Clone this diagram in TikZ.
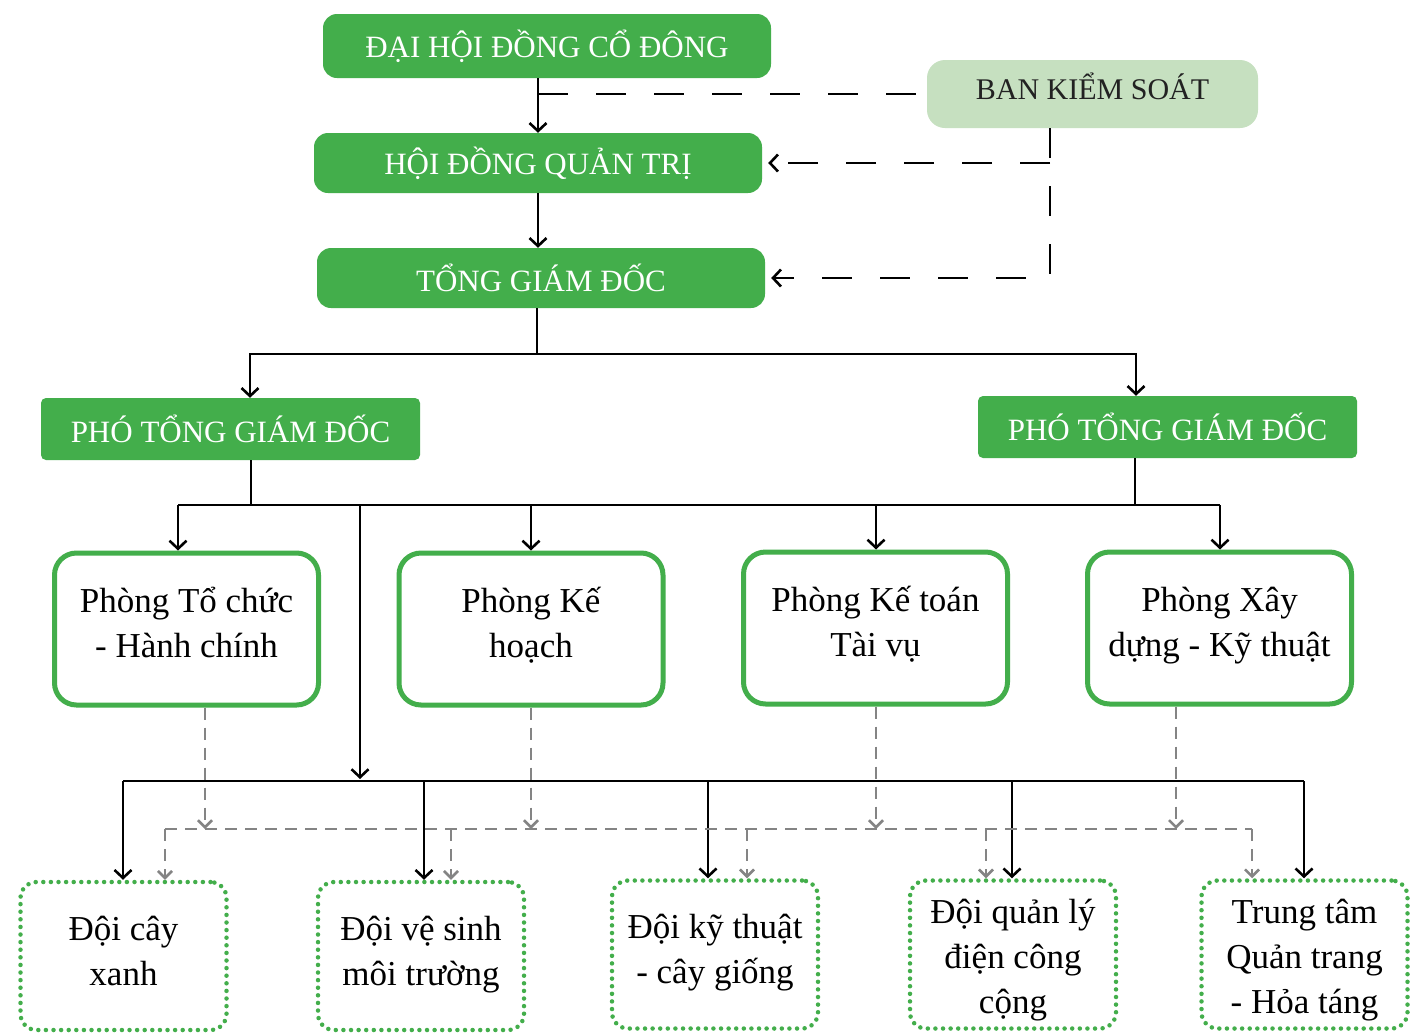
\documentclass[tikz,border=0pt]{standalone}
\usepackage{fontspec}
\setmainfont{Liberation Serif}
\usetikzlibrary{arrows.meta,calc}
\definecolor{gr}{RGB}{67,174,75}
\definecolor{lgr}{RGB}{198,224,192}
\definecolor{gy}{RGB}{132,132,132}
\definecolor{dk}{RGB}{34,34,34}
\begin{document}
\begin{tikzpicture}[x=1pt,y=-1pt,
  hbox/.style={fill=gr, rounded corners=14pt, text=white, inner sep=0pt, font=\fontsize{31}{36}\selectfont},
  pbox/.style={fill=gr, rounded corners=5pt, text=white, inner sep=0pt, font=\fontsize{31}{36}\selectfont, minimum width=379pt, minimum height=62pt},
  kbox/.style={fill=lgr, rounded corners=18pt, text=dk, inner sep=0pt, font=\fontsize{30}{34}\selectfont},
  phbox/.style={draw=gr, line width=5pt, fill=white, rounded corners=22pt, inner sep=0pt, align=center, font=\fontsize{35}{45}\selectfont, minimum width=264pt, minimum height=152pt},
  dbox/.style={draw=gr, line width=4.5pt, dash pattern=on 0pt off 7.6pt, line cap=round, rounded corners=16pt, inner sep=0pt, align=center, font=\fontsize{35}{45}\selectfont, minimum width=206pt, minimum height=148pt},
  bl/.style={draw=black, line width=2.6pt},
  arr/.style={-{Straight Barb[length=8pt,width=17pt]}},
  bdash/.style={draw=black, line width=2.6pt, dash pattern=on 30pt off 28pt},
  gd/.style={draw=gy, line width=2.6pt, dash pattern=on 12pt off 8pt},
  garr/.style={-{Straight Barb[length=7pt,width=14pt]}}
]
\useasboundingbox (0,0) rectangle (1410,1034);
\fill[white] (0,0) rectangle (1410,1034);

% top nodes
\node[hbox, minimum width=448pt, minimum height=64pt] (dh) at (547,46) {ĐẠI HỘI ĐỒNG CỔ ĐÔNG};
\node[hbox, minimum width=448pt, minimum height=60pt] (hd) at (538,163) {HỘI ĐỒNG QUẢN TRỊ};
\node[hbox, minimum width=448pt, minimum height=60pt] (tg) at (541,278) {TỔNG GIÁM ĐỐC};
\node[kbox, minimum width=331pt, minimum height=68pt, text depth=16pt] (bks) at (1092.5,94) {BAN KIỂM SOÁT};
\node[pbox] (p1) at (230.5,429) {PHÓ TỔNG GIÁM ĐỐC};
\node[pbox] (p2) at (1167.5,427) {PHÓ TỔNG GIÁM ĐỐC};

% departments
\node[phbox] (ph1) at (186.5,629) {Phòng Tổ chức\\- Hành chính\\[-32pt]};
\node[phbox] (ph2) at (531,629) {Phòng Kế\\hoạch\\[-32pt]};
\node[phbox] (ph3) at (875.5,628) {Phòng Kế toán\\Tài vụ\\[-32pt]};
\node[phbox] (ph4) at (1219.5,628) {Phòng Xây\\dựng - Kỹ thuật\\[-32pt]};

% teams
\node[dbox] (d1) at (123.5,956) {Đội cây\\xanh\\[-34pt]};
\node[dbox] (d2) at (421,956) {Đội vệ sinh\\môi trường\\[-34pt]};
\node[dbox] (d3) at (715,954.5) {Đội kỹ thuật\\- cây giống\\[-34pt]};
\node[dbox] (d4) at (1013,954.5) {\rule{0pt}{36pt}Đội quản lý\\điện công\\cộng};
\node[dbox] (d5) at (1304.5,954.5) {\rule{0pt}{36pt}Trung tâm\\Quản trang\\- Hỏa táng};

% top connectors
\draw[bl,arr] (dh.south -| hd.north) -- (hd.north);
\draw[bl,arr] (hd.south) -- (hd.south |- tg.north);
\draw[bdash] (bks.west -| hd.north) -- (bks.west);
\coordinate (kc) at (1050,278);
\draw[bdash,arr,shorten >=6pt] (bks.south -| kc) -- (kc) -- (tg.east);
\draw[bdash,arr,shorten >=6pt] (hd.east -| kc) -- (hd.east);

% to deputies
\coordinate (b1) at (537,354);
\coordinate (b1l) at (250,354);
\coordinate (b1r) at (1136,354);
\draw[bl] (tg.south -| b1) -- (b1);
\draw[bl,arr] (b1) -- (b1l) -- (b1l |- p1.north);
\draw[bl,arr] (b1) -- (b1r) -- (b1r |- p2.north);

% to departments
\coordinate (j1) at (251,505);
\coordinate (j2) at (1135,505);
\coordinate (b2a) at (178,505);
\coordinate (b2b) at (531,505);
\coordinate (b2c) at (876,505);
\coordinate (b2d) at (1220,505);
\draw[bl] (p1.south -| j1) -- (j1);
\draw[bl] (p2.south -| j2) -- (j2);
\draw[bl] (b2a) -- (b2d);
\draw[bl,arr] (b2a) -- (b2a |- ph1.north);
\draw[bl,arr] (b2b) -- (b2b |- ph2.north);
\draw[bl,arr] (b2c) -- (b2c |- ph3.north);
\draw[bl,arr] (b2d) -- (b2d |- ph4.north);

% to teams (black)
\coordinate (v1) at (360,505);
\coordinate (v2) at (360,779);
\draw[bl,arr] (v1) -- (v2);
\coordinate (c1) at (123,781);
\coordinate (c2) at (424,781);
\coordinate (c3) at (708,781);
\coordinate (c4) at (1012,781);
\coordinate (c5) at (1304,781);
\draw[bl] (c1) -- (c5);
\draw[bl,arr] (c1) -- (c1 |- d1.north);
\draw[bl,arr] (c2) -- (c2 |- d2.north);
\draw[bl,arr] (c3) -- (c3 |- d3.north);
\draw[bl,arr] (c4) -- (c4 |- d4.north);
\draw[bl,arr] (c5) -- (c5 |- d5.north);

% grey dashed
\coordinate (g1) at (205,829);
\coordinate (g2) at (531,829);
\coordinate (g3) at (876,829);
\coordinate (g4) at (1176,829);
\draw[gd,garr] (ph1.south -| g1) -- (g1);
\draw[gd,garr] (ph2.south -| g2) -- (g2);
\draw[gd,garr] (ph3.south -| g3) -- (g3);
\draw[gd,garr] (ph4.south -| g4) -- (g4);
\coordinate (h1) at (165,829);
\coordinate (h2) at (451,829);
\coordinate (h3) at (747,829);
\coordinate (h4) at (986,829);
\coordinate (h5) at (1252,829);
\draw[gd] (h1) -- (h5);
\draw[gd,garr] (h1) -- (h1 |- d1.north);
\draw[gd,garr] (h2) -- (h2 |- d2.north);
\draw[gd,garr] (h3) -- (h3 |- d3.north);
\draw[gd,garr] (h4) -- (h4 |- d4.north);
\draw[gd,garr] (h5) -- (h5 |- d5.north);
\end{tikzpicture}
\end{document}
